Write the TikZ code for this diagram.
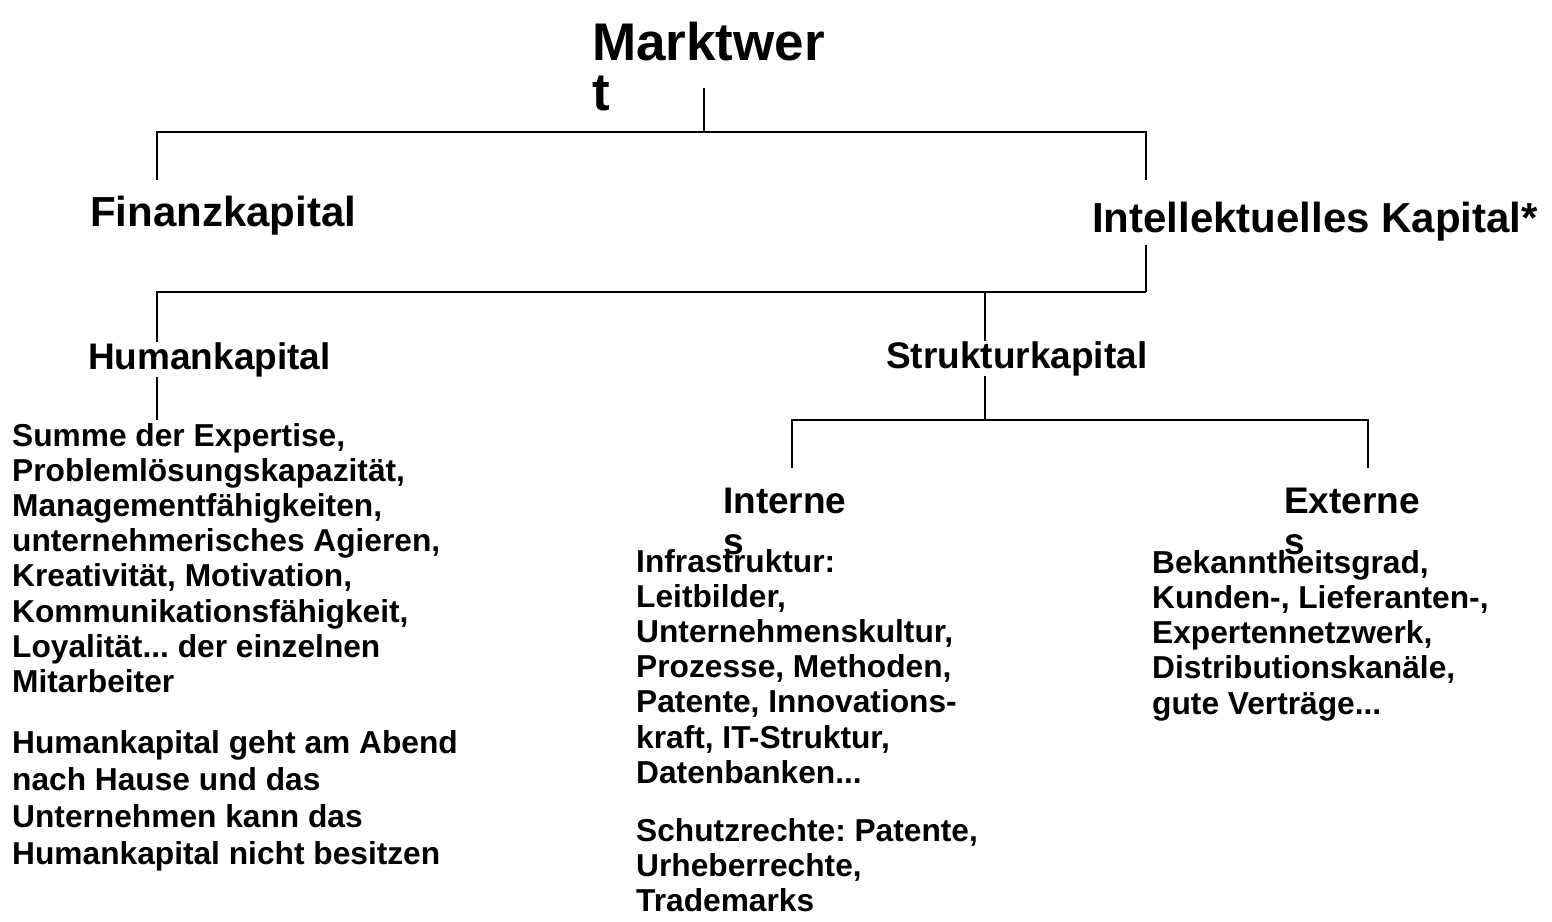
\documentclass[tikz,border=0pt]{standalone}
\usepackage{fontspec}
\setmainfont{Liberation Sans}
\frenchspacing
\tikzset{
  conn/.style={line width=1.6bp, black},
  lbl/.style={anchor=base west, inner sep=0pt, font=\bfseries},
  hdr/.style={lbl, fill=white},
}
\newcommand{\txtA}[1]{\fontsize{53bp}{50bp}\selectfont\parbox[t]{300bp}{\raggedright #1}}
\newcommand{\txtB}[1]{\fontsize{42bp}{48bp}\selectfont #1}
\newcommand{\txtC}[1]{\fontsize{37bp}{41bp}\selectfont #1}
\newcommand{\txtCw}[1]{\fontsize{37bp}{41bp}\selectfont\parbox[t]{200bp}{\raggedright #1}}
\newcommand{\body}[2]{\fontsize{31.7bp}{#1}\selectfont\parbox[t]{520bp}{\raggedright #2}}
\begin{document}
\begin{tikzpicture}[x=1bp,y=-1bp]
\useasboundingbox[fill=white] (0,0) rectangle (1552,921);

% coordinates
\coordinate (mwbot) at (704,88);
\coordinate (l1mid) at (704,132);
\coordinate (l1a) at (157,132);
\coordinate (l1b) at (1146,132);
\coordinate (fkt) at (157,180);
\coordinate (ikt) at (1146,180);
\coordinate (ikb) at (1146,245);
\coordinate (l2b) at (1146,292);
\coordinate (l2a) at (157,292);
\coordinate (l2m) at (985,292);
\coordinate (hkb) at (157,420);
\coordinate (skb) at (985,420);
\coordinate (l3a) at (792,420);
\coordinate (l3b) at (1368,420);
\coordinate (int) at (792,468);
\coordinate (ext) at (1368,468);

% connectors
\draw[conn] (mwbot) -- (l1mid);
\draw[conn] (fkt) |- (l1mid) -| (ikt);
\draw[conn] (ikb) -- (l2b);
\draw[conn] (hkb) |- (l2m) -- (l2b);
\draw[conn] (l2m) -- (skb);
\draw[conn] (int) |- (skb) -| (ext);

% texts
\node[lbl] (mw) at (592,60) {\txtA{Marktwer\\t}};
\node[lbl] (fk) at (90,226) {\txtB{Finanzkapital}};
\node[lbl] (ik) at (1092,232) {\txtB{Intellektuelles Kapital*}};
\node[hdr] (hk) at (88,369) {\txtC{Humankapital}};
\node[hdr] (sk) at (886,368) {\txtC{Strukturkapital}};
\node[lbl] (in) at (723,513) {\txtCw{Interne\\s}};
\node[lbl] (ex) at (1284,513) {\txtCw{Externe\\s}};

\node[lbl] (hk1) at (12,446) {\body{35.2bp}{Summe der Expertise,\\Problemlösungskapazität,\\Managementfähigkeiten,\\unternehmerisches Agieren,\\Kreativität, Motivation,\\Kommunikationsfähigkeit,\\Loyalität... der einzelnen\\Mitarbeiter}};
\node[lbl] (hk2) at (12,753) {\body{37.2bp}{Humankapital geht am Abend\\nach Hause und das\\Unternehmen kann das\\Humankapital nicht besitzen}};

\node[lbl] (in1) at (636,572) {\body{35.2bp}{Infrastruktur:\\Leitbilder,\\Unternehmenskultur,\\Prozesse, Methoden,\\Patente, Innovations-\\kraft, IT-Struktur,\\Datenbanken...}};
\node[lbl] (in2) at (636,841) {\body{35.2bp}{Schutzrechte: Patente,\\Urheberrechte,\\Trademarks}};

\node[lbl] (ex1) at (1152,573) {\body{35.3bp}{Bekanntheitsgrad,\\Kunden-, Lieferanten-,\\Expertennetzwerk,\\Distributionskanäle,\\gute Verträge...}};
\end{tikzpicture}
\end{document}
